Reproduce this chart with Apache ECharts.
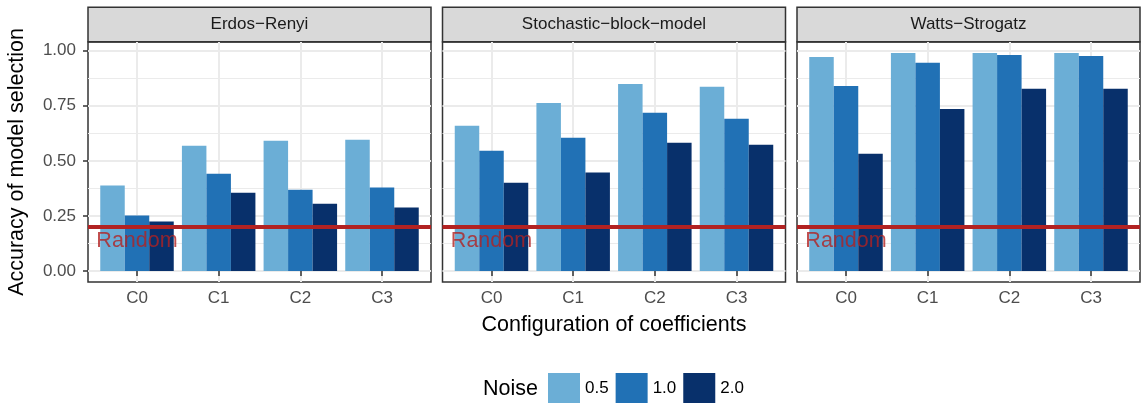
<!DOCTYPE html>
<html><head><meta charset="utf-8">
<script src="https://cdn.jsdelivr.net/npm/echarts@6/dist/echarts.min.js"></script>
<style>html,body{margin:0;padding:0;background:#fff}#chart{width:1141px;height:404px}</style>
</head><body><div id="chart"></div>
<script>
// ---- data ----
const categories = ['C0', 'C1', 'C2', 'C3'];
const models = ['Erdos\u2212Renyi', 'Stochastic\u2212block\u2212model', 'Watts\u2212Strogatz'];
const noiseLevels = ['0.5', '1.0', '2.0'];

const erdosRenyi_05 = [0.388, 0.569, 0.591, 0.596];
const erdosRenyi_10 = [0.252, 0.442, 0.369, 0.379];
const erdosRenyi_20 = [0.225, 0.356, 0.306, 0.288];

const sbm_05 = [0.659, 0.763, 0.849, 0.836];
const sbm_10 = [0.546, 0.605, 0.718, 0.691];
const sbm_20 = [0.401, 0.447, 0.582, 0.573];

const wattsStrogatz_05 = [0.971, 0.990, 0.990, 0.990];
const wattsStrogatz_10 = [0.840, 0.945, 0.981, 0.976];
const wattsStrogatz_20 = [0.533, 0.736, 0.827, 0.827];

const yTicks = [0, 0.25, 0.5, 0.75, 1];
const yMinorTicks = [0.125, 0.375, 0.625, 0.875];
const randomLevel = 0.2;
const randomLabel = 'Random';
const randomLabelY = 0.135;
const yTitle = 'Accuracy of model selection';
const xTitle = 'Configuration of coefficients';
const legendTitle = 'Noise';

// ---- layout / style ----
const panelValues = [
  [erdosRenyi_05, erdosRenyi_10, erdosRenyi_20],
  [sbm_05, sbm_10, sbm_20],
  [wattsStrogatz_05, wattsStrogatz_10, wattsStrogatz_20]
];
const colors = ['#6BAED6', '#2171B5', '#08306B'];
const FONT = '"Liberation Sans", Arial, Helvetica, sans-serif';
const panelLeft = [88, 442.5, 797];
const panelWidth = 343;
const plotTop = 42, plotHeight = 240;
const stripTop = 7.3, stripHeight = 34.4;
const yMin = -0.0495, yMax = 1.0395;   // ggplot 5% expansion
const xMin = 0.4, xMax = 4.6;          // discrete expansion 0.6
const xTickVals = categories.map((c, k) => k + 1);

const grids = [], xAxes = [], yAxes = [], series = [], graphics = [];

for (let i = 0; i < 3; i++) {
  grids.push({
    left: panelLeft[i], top: plotTop, width: panelWidth, height: plotHeight,
    show: true, backgroundColor: '#FFFFFF', borderColor: '#333333', borderWidth: 1.5,
    containLabel: false, outerBoundsMode: 'none'
  });
}
for (let i = 0; i < 3; i++) {
  grids.push({
    left: panelLeft[i], top: stripTop, width: panelWidth, height: stripHeight,
    show: true, backgroundColor: '#D9D9D9', borderColor: '#333333', borderWidth: 1.5,
    containLabel: false, outerBoundsMode: 'none'
  });
}

for (let i = 0; i < 3; i++) {
  xAxes.push({
    type: 'value', gridIndex: i, min: xMin, max: xMax, minInterval: 1, maxInterval: 1,
    axisLine: { show: false },
    axisTick: { show: true, length: 5, customValues: xTickVals, lineStyle: { color: '#333333', width: 1.5 } },
    axisLabel: {
      show: true, margin: 8, customValues: xTickVals,
      color: '#4D4D4D', fontSize: 17, fontFamily: FONT,
      formatter: v => (Number.isInteger(v) && v >= 1 && v <= categories.length) ? categories[v - 1] : ''
    },
    splitLine: { show: true, lineStyle: { color: '#EBEBEB', width: 2 } }
  });
}
for (let i = 0; i < 3; i++) {
  xAxes.push({ type: 'value', gridIndex: 3 + i, show: false, min: 0, max: 1 });
}

for (let i = 0; i < 3; i++) {
  yAxes.push({
    type: 'value', gridIndex: i, min: yMin, max: yMax, minInterval: 0.25, maxInterval: 0.25,
    axisLine: { show: false },
    axisTick: { show: i === 0, length: 5, customValues: yTicks, lineStyle: { color: '#333333', width: 1.5 } },
    axisLabel: {
      show: i === 0, margin: 12, customValues: yTicks,
      color: '#4D4D4D', fontSize: 17, fontFamily: FONT,
      formatter: v => yTicks.some(t => Math.abs(t - v) < 1e-9) ? v.toFixed(2) : ''
    },
    splitLine: { show: true, lineStyle: { color: '#EBEBEB', width: 2 } }
  });
}
for (let i = 0; i < 3; i++) {
  yAxes.push({
    type: 'value', gridIndex: i, min: yMin, max: yMax, minInterval: 0.125, maxInterval: 0.125,
    axisLine: { show: false },
    axisTick: { show: false, customValues: yMinorTicks },
    axisLabel: { show: false },
    splitLine: { show: true, lineStyle: { color: '#EBEBEB', width: 1 } }
  });
}
for (let i = 0; i < 3; i++) {
  yAxes.push({ type: 'value', gridIndex: 3 + i, show: false, min: 0, max: 1 });
}

for (let i = 0; i < 3; i++) {
  for (let j = 0; j < 3; j++) {
    series.push({
      type: 'bar', name: noiseLevels[j], xAxisIndex: i, yAxisIndex: i,
      barWidth: '30%', barGap: '0%',
      itemStyle: { color: colors[j] },
      data: categories.map((c, k) => [k + 1, panelValues[i][j][k]]),
      silent: true, animation: false
    });
  }
  series.push({
    type: 'scatter', name: 'random-' + i, xAxisIndex: i, yAxisIndex: i, z: 10,
    symbolSize: 1, itemStyle: { color: 'rgba(0,0,0,0)' },
    data: [[categories.indexOf('C0') + 1, randomLabelY]],
    label: { show: true, position: 'inside', formatter: randomLabel, color: '#B22222', fontSize: 21.5, fontFamily: FONT },
    markLine: {
      silent: true, symbol: ['none', 'none'], label: { show: false },
      lineStyle: { color: '#B22222', width: 4, type: 'solid' },
      data: [{ yAxis: randomLevel }], animation: false
    },
    silent: true, animation: false
  });
  graphics.push({
    type: 'text', x: panelLeft[i] + panelWidth / 2, y: stripTop + stripHeight / 2, z: 100,
    style: { text: models[i], fill: '#1A1A1A', font: '17px ' + FONT, align: 'center', verticalAlign: 'middle' }
  });
}

graphics.push({
  type: 'text', x: 17, y: plotTop + plotHeight / 2, rotation: Math.PI / 2, z: 100,
  style: { text: yTitle, fill: '#000000', font: '21.5px ' + FONT, align: 'center', verticalAlign: 'middle' }
});
graphics.push({
  type: 'text', x: (panelLeft[0] + panelLeft[2] + panelWidth) / 2, y: 325, z: 100,
  style: { text: xTitle, fill: '#000000', font: '21.5px ' + FONT, align: 'center', verticalAlign: 'middle' }
});
graphics.push({
  type: 'text', x: 483, y: 389, z: 100,
  style: { text: legendTitle, fill: '#000000', font: '21.5px ' + FONT, align: 'left', verticalAlign: 'middle' }
});

const chart = echarts.init(document.getElementById('chart'), null, { renderer: 'canvas' });
chart.setOption({
  animation: false,
  backgroundColor: '#FFFFFF',
  grid: grids, xAxis: xAxes, yAxis: yAxes, series: series,
  legend: {
    data: noiseLevels, icon: 'rect', itemWidth: 32, itemHeight: 30, itemGap: 7,
    left: 548, top: 373, padding: 0, orient: 'horizontal', selectedMode: false,
    textStyle: { color: '#000000', fontSize: 17, fontFamily: FONT }
  },
  graphic: graphics
});
</script></body></html>
